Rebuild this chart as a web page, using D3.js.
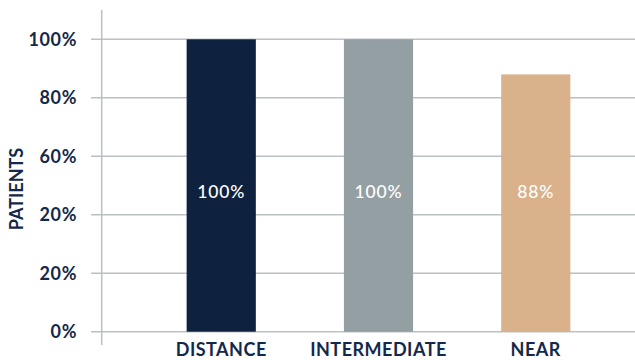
<!DOCTYPE html>
<html><head><meta charset="utf-8">
<script src="https://cdn.jsdelivr.net/npm/d3@7"></script>
<style>body{margin:0;background:#fff}svg{display:block}</style>
</head><body>
<svg id="c" width="635" height="360"></svg>
<script>
const categories = ["DISTANCE", "INTERMEDIATE", "NEAR"];
const values = [100, 100, 88];
const valueLabels = ["100%", "100%", "88%"];
const tickValues = [0, 20, 40, 60, 80, 100];
const tickLabels = ["0%", "20%", "20%", "60%", "80%", "100%"];
const colors = ["#0e2240", "#949fa3", "#d9b18a"];
const yTitle = "PATIENTS";

const svg = d3.select("#c");
const font = "Lato, 'Open Sans', sans-serif";
const ink = "#13284a";

const y = d3.scaleLinear().domain([0, 100]).range([331.7, 39.3]);
const x = d3.scaleBand().domain(categories).range([108, 649]).paddingInner(0.56).paddingOuter(0.5);

// gridlines
svg.append("g").selectAll("line").data(tickValues).join("line")
  .attr("x1", 91).attr("x2", 635)
  .attr("y1", d => y(d)).attr("y2", d => y(d))
  .attr("stroke", "#b9c1c4").attr("stroke-width", 1.5);

// vertical axis line
svg.append("line").attr("x1", 101.7).attr("x2", 101.7).attr("y1", 10).attr("y2", 345)
  .attr("stroke", "#b9c1c4").attr("stroke-width", 1.5);

// tick labels
svg.append("g").selectAll("text").data(tickValues).join("text")
  .attr("x", 77).attr("y", d => y(d)).attr("dy", "0.36em")
  .attr("text-anchor", "end").attr("font-family", font).attr("font-weight", 700)
  .attr("font-size", 18).attr("fill", ink).attr("letter-spacing", 0.6)
  .text((d, i) => tickLabels[i]);

// bars
svg.append("g").selectAll("rect").data(values).join("rect")
  .attr("x", (d, i) => x(categories[i])).attr("width", x.bandwidth())
  .attr("y", d => y(d)).attr("height", d => y(0) - y(d))
  .attr("fill", (d, i) => colors[i]);

// value labels
svg.append("g").selectAll("text").data(values).join("text")
  .attr("x", (d, i) => x(categories[i]) + x.bandwidth() / 2).attr("y", 191.3).attr("dy", "0.36em")
  .attr("text-anchor", "middle").attr("font-family", font).attr("font-weight", 500)
  .attr("font-size", 17.5).attr("fill", "#ffffff").attr("letter-spacing", 0.8)
  .text((d, i) => valueLabels[i]);

// category labels
svg.append("g").selectAll("text").data(categories).join("text")
  .attr("x", d => x(d) + x.bandwidth() / 2).attr("y", 356)
  .attr("text-anchor", "middle").attr("font-family", font).attr("font-weight", 700)
  .attr("font-size", 18).attr("fill", ink).attr("letter-spacing", 0.5)
  .text(d => d);

// y title
svg.append("text").attr("transform", "translate(22.5,189) rotate(-90)")
  .attr("text-anchor", "middle").attr("font-family", font).attr("font-weight", 700)
  .attr("font-size", 18).attr("fill", ink)
  .text(yTitle);
</script>
</body></html>
